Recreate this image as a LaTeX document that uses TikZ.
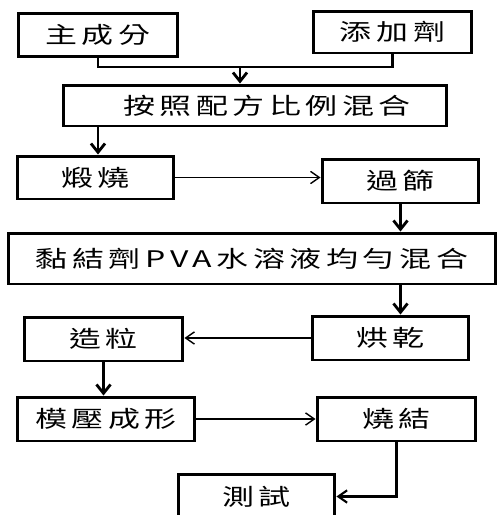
\documentclass[tikz,border=0pt]{standalone}
\usepackage{fontspec}
\newfontfamily\cjk[FakeStretch=1.4, LetterSpace=20]{Noto Sans CJK TC}
\usetikzlibrary{arrows.meta}

\begin{document}
\begin{tikzpicture}[x=0.02cm, y=-0.02cm,
  box/.style={draw, line width=1.7pt, minimum height=0.87cm, inner sep=0pt,
    font=\cjk\fontsize{13}{13}\selectfont},
  heavy/.style={line width=1.6pt, -{Straight Barb[length=5pt,width=8pt]}},
  thin/.style={line width=0.8pt, -{Straight Barb[length=5pt,width=7pt]}}]
\useasboundingbox (0,0) rectangle (498,515);
% raw materials
\node[box, minimum width=3.2cm] (main) at (98,35) {主成分};
\node[box, minimum width=3.18cm, minimum height=0.84cm] (add) at (392.5,32) {添加劑};
\node[box, minimum width=7.68cm, minimum height=0.82cm] (mix) at (255,105.5)
  {\hspace*{0.24cm}按照配方比例混合\hspace*{-0.24cm}};
% process steps
\node[box, minimum width=3.14cm, minimum height=0.86cm] (calc) at (95.5,177.5) {煅燒};
\node[box, minimum width=3.14cm, minimum height=0.88cm] (sieve) at (400.5,181) {過篩};
\node[box, minimum width=9.76cm, minimum height=1.02cm] (pva) at (252,258.5) {黏結劑PVA水溶液均勻混合};
\node[box, minimum width=3.14cm, minimum height=0.88cm] (dry) at (390.5,338) {烘乾};
\node[box, minimum width=3.18cm, minimum height=0.88cm] (gran) at (103.5,339) {造粒};
\node[box, minimum width=3.56cm, minimum height=0.88cm] (press) at (106,419) {模壓成形};
\node[box, minimum width=3.18cm, minimum height=0.88cm] (sinter) at (396.5,419) {燒結};
\node[box, minimum width=3.14cm] (test) at (256.5,496.5) {測試};
% connectors
\coordinate (join) at (240,67);
\draw[line width=1.4pt] (main.south) |- (join) -| (add.south);
\draw[heavy] (join) -- (join |- mix.north);
\draw[heavy] (mix.south -| main.south) -- (main.south |- calc.north);
\draw[thin] (calc.east) -- (calc.east -| sieve.west);
\draw[heavy] (sieve.south) -- (sieve.south |- pva.north);
\draw[heavy] (pva.south -| sieve) -- (dry.north -| sieve);
\draw[thin] (dry.west) -- (dry.west -| gran.east);
\draw[heavy] (gran.south) -- (gran.south |- press.north);
\draw[thin] (press.east) -- (press.east -| sinter.west);
\draw[thin, line width=1.2pt] (sinter.south) |- (test.east);
\end{tikzpicture}
\end{document}
